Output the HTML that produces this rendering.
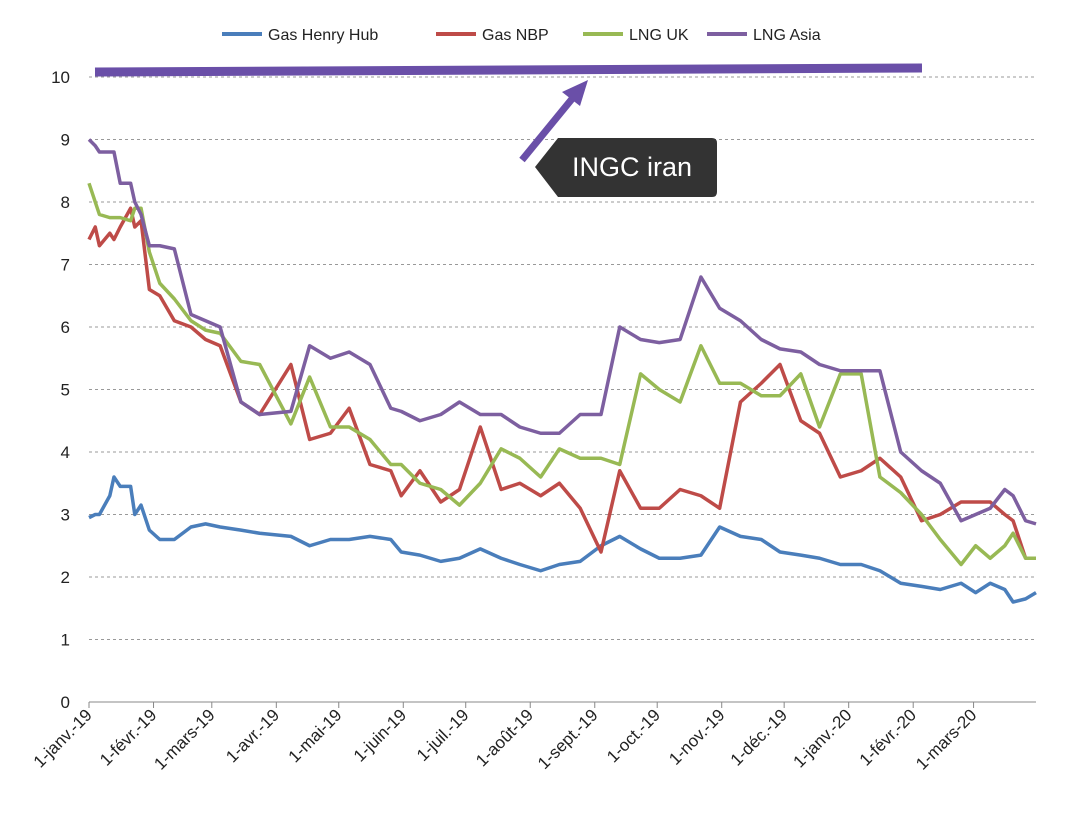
<!DOCTYPE html>
<html><head><meta charset="utf-8"><style>
body{margin:0;background:#fff;}
svg{display:block;font-family:"Liberation Sans",sans-serif;}
</style></head><body>
<svg id="chart" width="1080" height="815">
<g id="grid"></g>
<g id="axes"></g>
<g id="series"></g>
<g id="legend"></g>
<g>
<line x1="95" y1="72" x2="922" y2="68" stroke="#6a4fa8" stroke-width="9"/>
<line x1="522" y1="160" x2="576" y2="94" stroke="#6a4fa8" stroke-width="7"/>
<polygon points="588,80 562,92 580,106" fill="#6a4fa8"/>
<path d="M558,138 L712,138 Q717,138 717,143 L717,192 Q717,197 712,197 L558,197 L535,167 Z" fill="#333"/>
<text x="572" y="176" font-size="27" fill="#fff">INGC iran</text>
</g>
</svg>
<script>
const days=[0,3,5,10,12,15,20,22,25,29,34,41,49,56,63,73,82,97,106,116,125,135,145,150,159,169,178,188,198,207,217,226,236,246,255,265,274,284,294,303,313,323,332,342,351,361,371,380,390,400,409,419,426,433,440,444,450,455];
const henryHub=[2.95,3.0,3.0,3.3,3.6,3.45,3.45,3.0,3.15,2.75,2.6,2.6,2.8,2.85,2.8,2.75,2.7,2.65,2.5,2.6,2.6,2.65,2.6,2.4,2.35,2.25,2.3,2.45,2.3,2.2,2.1,2.2,2.25,2.5,2.65,2.45,2.3,2.3,2.35,2.8,2.65,2.6,2.4,2.35,2.3,2.2,2.2,2.1,1.9,1.85,1.8,1.9,1.75,1.9,1.8,1.6,1.65,1.75];
const gasNBP=[7.4,7.6,7.3,7.5,7.4,7.6,7.9,7.6,7.7,6.6,6.5,6.1,6.0,5.8,5.7,4.8,4.6,5.4,4.2,4.3,4.7,3.8,3.7,3.3,3.7,3.2,3.4,4.4,3.4,3.5,3.3,3.5,3.1,2.4,3.7,3.1,3.1,3.4,3.3,3.1,4.8,5.1,5.4,4.5,4.3,3.6,3.7,3.9,3.6,2.9,3.0,3.2,3.2,3.2,3.0,2.9,2.3,2.3];
const lngUK=[8.3,8.0,7.8,7.75,7.75,7.75,7.7,7.9,7.9,7.2,6.7,6.45,6.1,5.95,5.9,5.45,5.4,4.45,5.2,4.4,4.4,4.2,3.8,3.8,3.5,3.4,3.15,3.5,4.05,3.9,3.6,4.05,3.9,3.9,3.8,5.25,5.0,4.8,5.7,5.1,5.1,4.9,4.9,5.25,4.4,5.25,5.25,3.6,3.35,3.0,2.6,2.2,2.5,2.3,2.5,2.7,2.3,2.3];
const lngAsia=[9.0,8.9,8.8,8.8,8.8,8.3,8.3,8.0,7.8,7.3,7.3,7.25,6.2,6.1,6.0,4.8,4.6,4.65,5.7,5.5,5.6,5.4,4.7,4.65,4.5,4.6,4.8,4.6,4.6,4.4,4.3,4.3,4.6,4.6,6.0,5.8,5.75,5.8,6.8,6.3,6.1,5.8,5.65,5.6,5.4,5.3,5.3,5.3,4.0,3.7,3.5,2.9,3.0,3.1,3.4,3.3,2.9,2.85];
const yTicks=[0,1,2,3,4,5,6,7,8,9,10];
const monthLabels=["1-janv.-19","1-févr.-19","1-mars-19","1-avr.-19","1-mai-19","1-juin-19","1-juil.-19","1-août-19","1-sept.-19","1-oct.-19","1-nov.-19","1-déc.-19","1-janv.-20","1-févr.-20","1-mars-20"];
const monthDays=[0,31,59,90,120,151,181,212,243,273,304,334,365,396,425];
const seriesNames=["Gas Henry Hub","Gas NBP","LNG UK","LNG Asia"];
const seriesColors=["#4a7ebb","#be4b48","#98b954","#7d5fa0"];

const NS="http://www.w3.org/2000/svg";
const X0=89,X1=1036,Y0=702,Y10=77;
const x=d=>X0+(X1-X0)*d/455;
const y=v=>Y0-(Y0-Y10)*v/10;
function mk(tag,attrs,parent){const e=document.createElementNS(NS,tag);for(const k in attrs)e.setAttribute(k,attrs[k]);parent.appendChild(e);return e;}
const grid=document.getElementById('grid'),axes=document.getElementById('axes'),ser=document.getElementById('series'),leg=document.getElementById('legend');
yTicks.forEach(t=>{
  if(t>0){const l=mk('line',{x1:X0,x2:X1,y1:y(t),y2:y(t),stroke:'#999','stroke-dasharray':'3,3','stroke-width':1},grid);
  
  }
  const tx=mk('text',{x:70,y:y(t)+6,'font-size':17,'text-anchor':'end',fill:'#222'},axes);tx.textContent=t;
  
  
});
const ax=mk('line',{x1:X0,x2:X1,y1:Y0,y2:Y0,stroke:'#888','stroke-width':1},axes);


monthDays.forEach((d,i)=>{
  const tk=mk('line',{x1:x(d),x2:x(d),y1:Y0,y2:Y0+6,stroke:'#888'},axes);
  
  
  const tx=mk('text',{x:x(d)+4,y:Y0+14,'font-size':17,'text-anchor':'end',fill:'#222',transform:`rotate(-45 ${x(d)+4} ${Y0+14})`},axes);
  tx.textContent=monthLabels[i];
  
  
});
[henryHub,gasNBP,lngUK,lngAsia].forEach((vals,i)=>{
  const p=mk('polyline',{points:vals.map((v,j)=>x(days[j])+','+y(v)).join(' '),fill:'none',stroke:seriesColors[i],'stroke-width':3.5,'stroke-linejoin':'round'},ser);
  
  
});
const legX=[222,436,583,707];
seriesNames.forEach((n,i)=>{
  const l=mk('line',{x1:legX[i],x2:legX[i]+40,y1:34,y2:34,stroke:seriesColors[i],'stroke-width':4},leg);
  
  
  const t=mk('text',{x:legX[i]+46,y:40,'font-size':16,fill:'#222'},leg);t.textContent=n;
  
  
});
</script>
</body></html>
